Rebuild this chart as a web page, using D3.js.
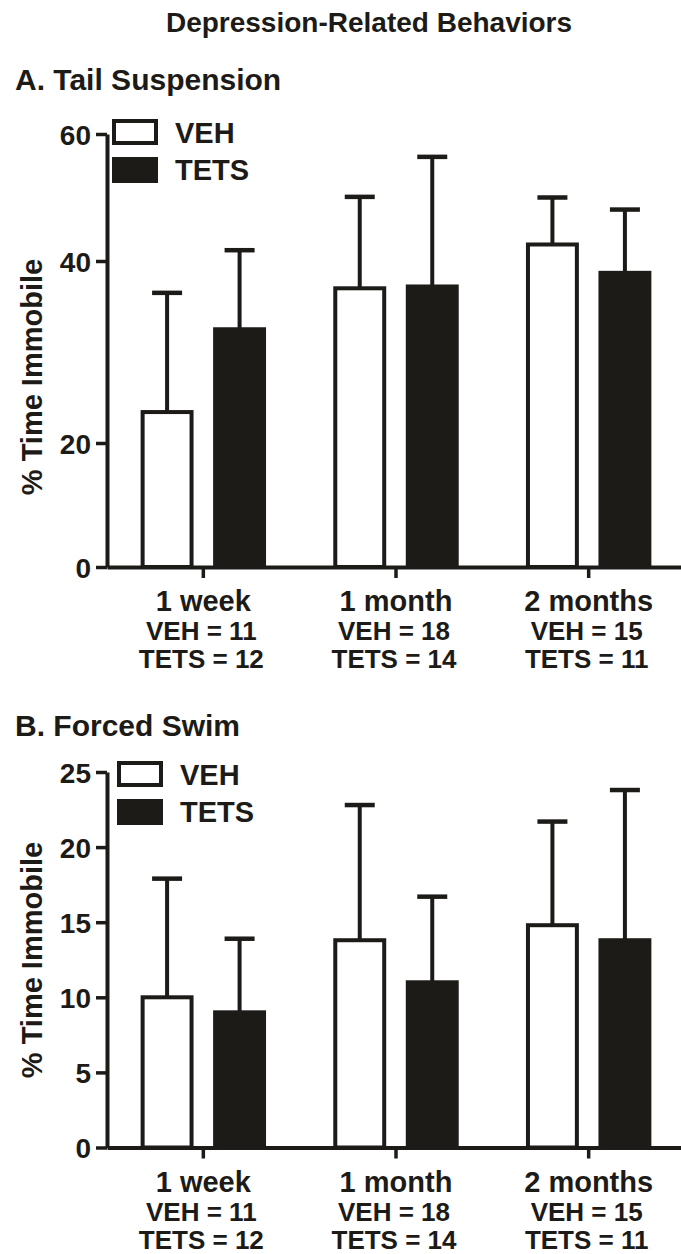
<!DOCTYPE html>
<html>
<head>
<meta charset="utf-8">
<script src="https://cdn.jsdelivr.net/npm/d3@7"></script>
<style>
  body { margin: 0; background: #ffffff; }
  text { font-family: "Liberation Sans", Arial, sans-serif; font-weight: bold; fill: #1d1b18; }
</style>
</head>
<body>
<div id="chart"></div>
<script>
// data
var timepoints = ["1 week", "1 month", "2 months"];
var groups = ["VEH", "TETS"];
var vehN = [11, 18, 15];
var tetsN = [12, 14, 11];

// A. tail suspension, % time immobile (mean, SEM)
var tailVeh = [23.4, 37.0, 42.6];
var tailVehSem = [13.1, 13.1, 7.4];
var tailTets = [32.5, 37.2, 38.7];
var tailTetsSem = [9.2, 19.2, 9.4];
var tailTicks = [0, 20, 40, 60];

// B. forced swim
var swimVeh = [10.0, 13.8, 14.8];
var swimVehSem = [7.9, 9.0, 6.9];
var swimTets = [9.0, 11.0, 13.8];
var swimTetsSem = [4.9, 5.7, 10.0];
var swimTicks = [0, 5, 10, 15, 20, 25];

var ink = "#1d1b18";
var W = 681, H = 1254;

var svg = d3.select("#chart").append("svg")
    .attr("width", W)
    .attr("height", H);

svg.append("text")
    .attr("x", 369).attr("y", 32)
    .attr("text-anchor", "middle")
    .style("font-size", "28px")
    .text("Depression-Related Behaviors");

// x scales shared by both panels
var x0 = d3.scaleBand().domain(timepoints).range([107, 685]);
var x1 = d3.scaleBand().domain(groups).range([-72.5, 72.5])
    .paddingInner(0.27).paddingOuter(0.135);

function panel(opts) {
    var g = svg.append("g");
    var y = opts.y;
    var base = y(0);

    g.append("text")
        .attr("x", 15).attr("y", opts.titleY)
        .style("font-size", "30px")
        .text(opts.title);

    // y axis
    var yAxis = g.append("g")
        .attr("transform", "translate(107,0)")
        .call(d3.axisLeft(y).tickValues(opts.ticks).tickSize(11).tickSizeOuter(0).tickPadding(5));
    yAxis.select(".domain").attr("stroke", ink).attr("stroke-width", 4);
    yAxis.selectAll(".tick line").attr("stroke", ink).attr("stroke-width", 3.5);
    yAxis.selectAll(".tick text")
        .style("font-size", "28px")
        .style("font-family", "'Liberation Sans', Arial, sans-serif")
        .style("font-weight", "bold")
        .attr("fill", ink)
        .attr("dy", "0.36em");

    g.append("text")
        .attr("transform", "translate(42," + opts.labelY + ") rotate(-90)")
        .attr("text-anchor", "middle")
        .style("font-size", "29px")
        .text("% Time Immobile");

    // rows for the bars
    var rows = [];
    timepoints.forEach(function (t, i) {
        rows.push({ t: t, grp: "VEH", v: opts.veh[i], sem: opts.vehSem[i] });
        rows.push({ t: t, grp: "TETS", v: opts.tets[i], sem: opts.tetsSem[i] });
    });

    var cx = function (d) { return x0(d.t) + x0.bandwidth() / 2 + x1(d.grp) + x1.bandwidth() / 2; };

    // error bars (upper only)
    g.selectAll(".err").data(rows).enter().append("line")
        .attr("x1", cx).attr("x2", cx)
        .attr("y1", function (d) { return y(d.v); })
        .attr("y2", function (d) { return y(d.v + d.sem); })
        .attr("stroke", ink).attr("stroke-width", 4);
    g.selectAll(".cap").data(rows).enter().append("line")
        .attr("x1", function (d) { return cx(d) - 15; })
        .attr("x2", function (d) { return cx(d) + 15; })
        .attr("y1", function (d) { return y(d.v + d.sem); })
        .attr("y2", function (d) { return y(d.v + d.sem); })
        .attr("stroke", ink).attr("stroke-width", 4.5);

    g.selectAll(".bar").data(rows).enter().append("rect")
        .attr("x", function (d) { return cx(d) - x1.bandwidth() / 2 + 2; })
        .attr("width", x1.bandwidth() - 4)
        .attr("y", function (d) { return y(d.v); })
        .attr("height", function (d) { return base - y(d.v); })
        .attr("fill", function (d) { return d.grp == "VEH" ? "#ffffff" : ink; })
        .attr("stroke", ink).attr("stroke-width", 4);

    // x axis
    var xAxis = g.append("g")
        .attr("transform", "translate(0," + base + ")")
        .call(d3.axisBottom(x0).tickSize(11).tickSizeOuter(0).tickFormat(""));
    xAxis.select(".domain").attr("stroke", ink).attr("stroke-width", 4);
    xAxis.selectAll(".tick line").attr("stroke", ink).attr("stroke-width", 3.5);

    timepoints.forEach(function (t, i) {
        var mx = x0(t) + x0.bandwidth() / 2;
        g.append("text").attr("x", mx).attr("y", base + 44)
            .attr("text-anchor", "middle").style("font-size", "29px").text(t);
        g.append("text").attr("x", mx - 2).attr("y", base + 73)
            .attr("text-anchor", "middle").style("font-size", "26px").text("VEH = " + vehN[i]);
        g.append("text").attr("x", mx - 2).attr("y", base + 101)
            .attr("text-anchor", "middle").style("font-size", "26px").text("TETS = " + tetsN[i]);
    });

    // legend
    var lx = opts.legX, ly = opts.legY;
    g.append("rect").attr("x", lx + 2).attr("y", ly + 2).attr("width", 42).attr("height", 22)
        .attr("fill", "#ffffff").attr("stroke", ink).attr("stroke-width", 4);
    g.append("rect").attr("x", lx).attr("y", ly + 38).attr("width", 46).attr("height", 26)
        .attr("fill", ink);
    g.append("text").attr("x", lx + 63).attr("y", ly + 24).style("font-size", "29px").text("VEH");
    g.append("text").attr("x", lx + 63).attr("y", ly + 61).style("font-size", "29px").text("TETS");
}

panel({
    title: "A. Tail Suspension", titleY: 90,
    y: d3.scaleLinear().domain(tailTicks).range([567, 443, 261, 134]),
    ticks: tailTicks, labelY: 377,
    veh: tailVeh, vehSem: tailVehSem, tets: tailTets, tetsSem: tailTetsSem,
    legX: 112, legY: 119
});

panel({
    title: "B. Forced Swim", titleY: 736,
    y: d3.scaleLinear().domain([0, 25]).range([1147.5, 772]),
    ticks: swimTicks, labelY: 960,
    veh: swimVeh, vehSem: swimVehSem, tets: swimTets, tetsSem: swimTetsSem,
    legX: 117, legY: 761
});
</script>
</body>
</html>
